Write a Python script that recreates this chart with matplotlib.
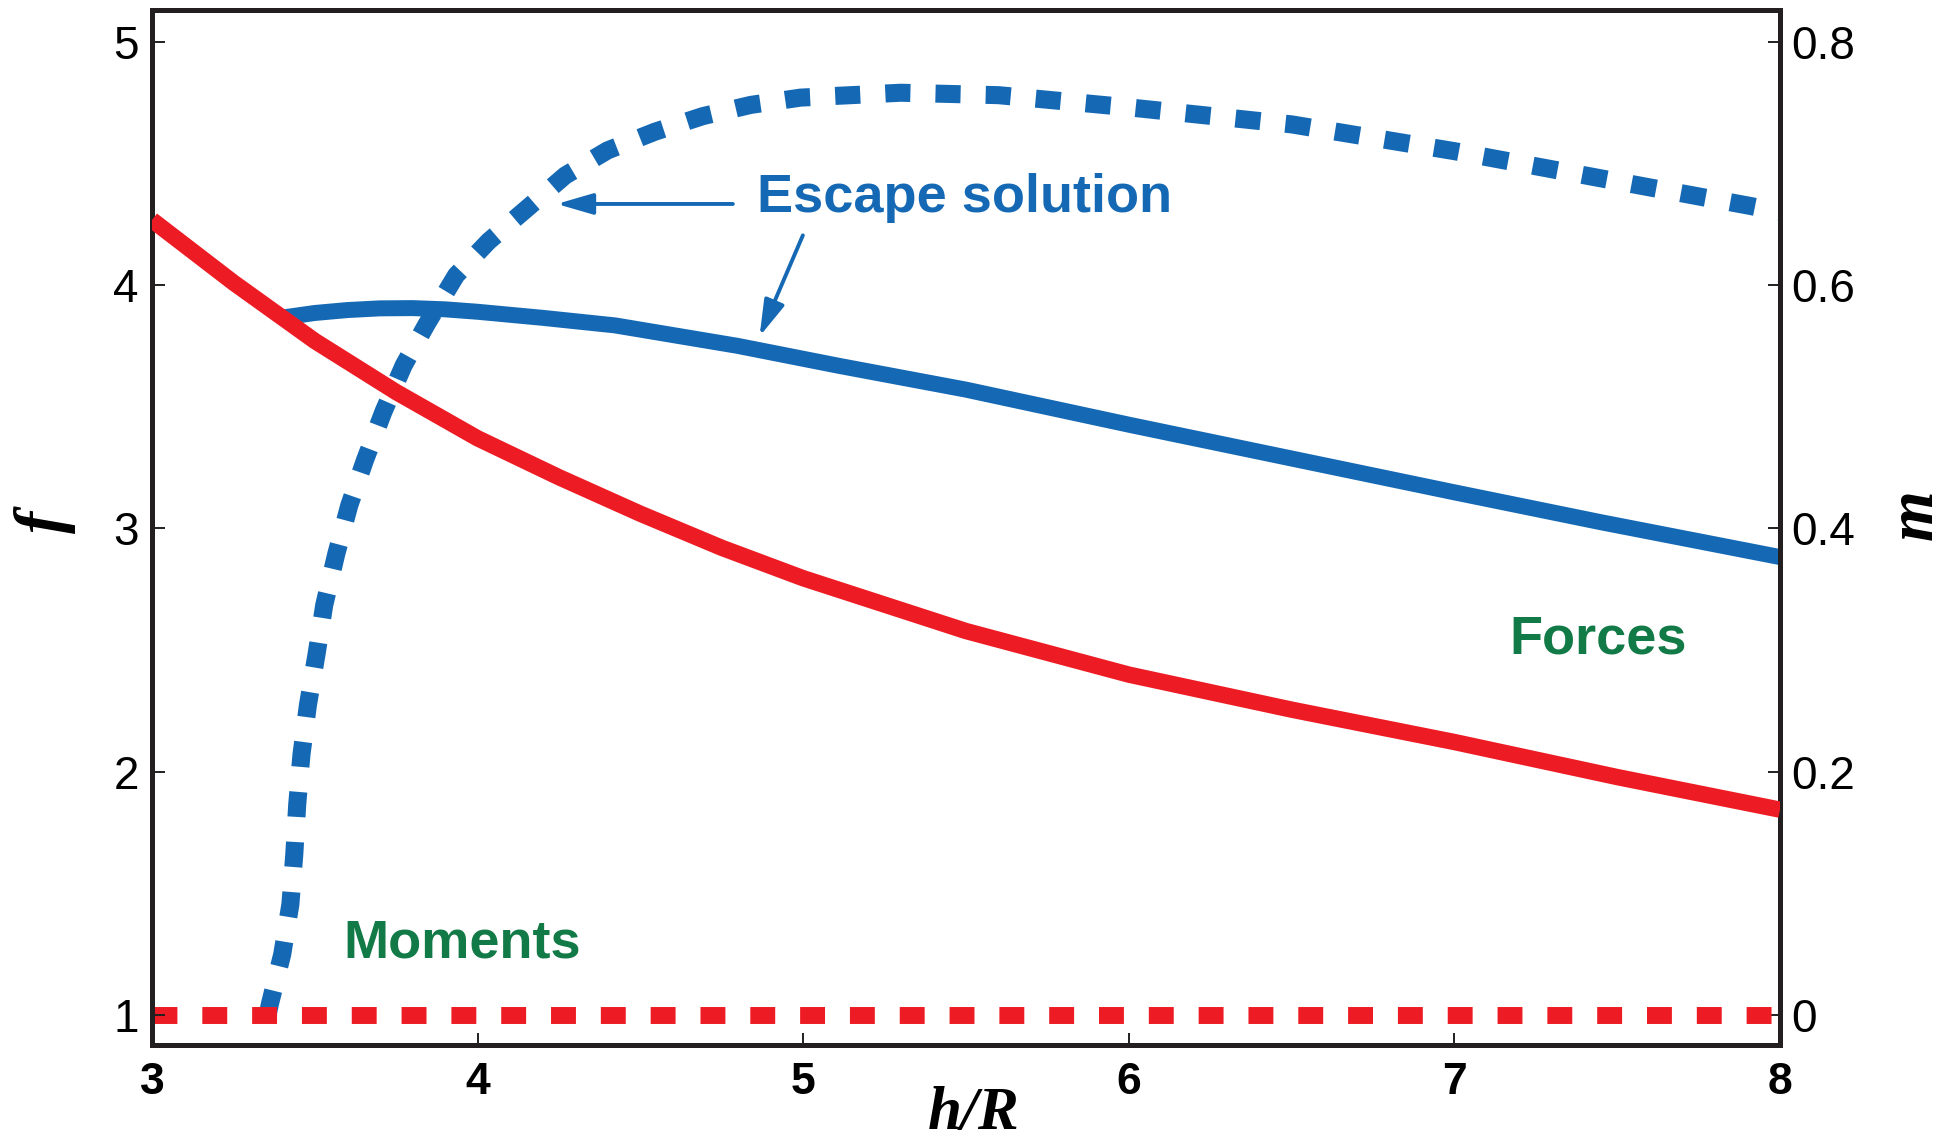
import matplotlib
matplotlib.use("Agg")
import matplotlib.pyplot as plt

# ---- data -------------------------------------------------------------
# force f versus h/R (left axis)
h_stable = [3.0, 3.25, 3.5, 3.75, 4.0, 4.25, 4.5, 4.75, 5.0, 5.5, 6.0, 6.5, 7.0, 7.5, 8.0]
f_stable = [4.267, 4.01, 3.77, 3.56, 3.37, 3.21, 3.06, 2.92, 2.795, 2.578, 2.399, 2.255, 2.122, 1.978, 1.844]

h_escape = [3.405, 3.5, 3.6, 3.7, 3.8, 3.9, 4.0, 4.2, 4.422, 4.798, 5.113, 5.5, 6.0, 6.5, 7.0, 7.447, 8.0]
f_escape = [3.867, 3.885, 3.897, 3.904, 3.905, 3.900, 3.890, 3.865, 3.834, 3.750, 3.667, 3.57, 3.426, 3.287, 3.148, 3.026, 2.882]

# moment m versus h/R (right axis)
h_m_escape = [3.355, 3.362, 3.400, 3.425, 3.437, 3.446, 3.459, 3.479, 3.505, 3.529,
              3.566, 3.606, 3.654, 3.711, 3.773, 3.844, 3.934, 4.034, 4.152, 4.269,
              4.399, 4.545, 4.692, 4.839, 4.992, 5.3, 5.6, 6.0, 6.5, 7.0, 7.604, 7.908, 8.0]
m_escape = [0.0, 0.009, 0.050, 0.091, 0.132, 0.173, 0.214, 0.255, 0.296, 0.337,
            0.379, 0.419, 0.456, 0.496, 0.534, 0.568, 0.608, 0.636, 0.663, 0.690,
            0.7106, 0.726, 0.7388, 0.748, 0.754, 0.758, 0.756, 0.746, 0.732, 0.71, 0.680, 0.665, 0.660]

h_m_stable = [3.0, 8.0]
m_stable = [0.0, 0.0]

h_ticks = [3, 4, 5, 6, 7, 8]
h_tick_labels = ["3", "4", "5", "6", "7", "8"]
f_ticks = [1, 2, 3, 4, 5]
f_tick_labels = ["1", "2", "3", "4", "5"]
m_ticks = [0.0, 0.2, 0.4, 0.6, 0.8]
m_tick_labels = ["0", "0.2", "0.4", "0.6", "0.8"]

# ---- style ------------------------------------------------------------
RED = "#ed1c24"
BLUE = "#1569b4"
GREEN = "#127a46"
DARK = "#231f20"

plt.rcParams["font.family"] = ["Liberation Sans", "DejaVu Sans"]

W, H = 1959, 1142
fig = plt.figure(figsize=(W / 100, H / 100), dpi=100)
fig.patch.set_facecolor("white")

ax = fig.add_axes([152 / W, 97 / H, 1628 / W, 1035 / H])
ax2 = ax.twinx()

# force axis on top so solid curves cover the moment curves
ax.set_zorder(2)
ax2.set_zorder(1)
ax.patch.set_visible(False)

f_lim = (0.877, 5.130)
ax.set_xlim(3, 8)
ax.set_ylim(*f_lim)
ax2.set_ylim((f_lim[0] - 1) / 5, (f_lim[1] - 1) / 5)

# moment curves (right axis)
ax2.plot(h_m_escape, m_escape, color=BLUE, lw=13, dashes=(1.39, 1.39),
         dash_capstyle="butt", solid_joinstyle="round", zorder=2)
ax2.plot(h_m_stable, m_stable, color=RED, lw=12.2, dashes=(1.47, 1.47),
         dash_capstyle="butt", zorder=3)

# force curves (left axis)
ax.plot(h_escape, f_escape, color=BLUE, lw=11.5, solid_capstyle="butt", zorder=2)
ax.plot(h_stable, f_stable, color=RED, lw=11.8, solid_capstyle="butt", zorder=3)

# spines
for s in ax.spines.values():
    s.set_linewidth(3.6)
    s.set_color(DARK)
for s in ax2.spines.values():
    s.set_visible(False)

# ticks
ax.set_xticks(h_ticks)
ax.set_xticklabels(h_tick_labels, fontsize=32, fontweight="bold")
ax.set_yticks(f_ticks)
ax.set_yticklabels(f_tick_labels, fontsize=33)
ax2.set_yticks(m_ticks)
ax2.set_yticklabels(m_tick_labels, fontsize=33)

ax.tick_params(axis="both", direction="in", length=9, width=1.4, color=DARK, labelcolor="black")
ax.tick_params(axis="x", pad=12, top=False)
ax.tick_params(axis="y", pad=9.5, right=False)
ax2.tick_params(axis="y", direction="in", length=9, width=1.4, color=DARK,
                pad=8, left=False, right=True, labelcolor="black")

# axis labels
serif = dict(family=["Liberation Serif", "DejaVu Serif"], style="italic", weight="bold")
fig.text(974 / W, 13 / H, "h/R", ha="center", va="baseline", fontsize=44, **serif)
fig.text(45 / W, 1 - 522 / H, "f", ha="center", va="center", rotation=90, fontsize=48, **serif)
fig.text(1916 / W, 1 - 515 / H, "m", ha="center", va="center", rotation=90, fontsize=47, **serif)

# annotations
ax.text(4.858, 4.300, "Escape solution", color=BLUE, fontsize=39, fontweight="bold",
        ha="left", va="baseline")
ax.text(7.169, 2.486, "Forces", color=GREEN, fontsize=39, fontweight="bold",
        ha="left", va="baseline")
ax.text(3.5875, 1.238, "Moments", color=GREEN, fontsize=39, fontweight="bold",
        ha="left", va="baseline")

arrow = dict(arrowstyle="-|>,head_length=1.1,head_width=0.32", mutation_scale=20,
             lw=2.8, color=BLUE, shrinkA=0, shrinkB=0)
ax.annotate("", xy=(4.243, 4.333), xytext=(4.784, 4.333), arrowprops=arrow)
ax.annotate("", xy=(4.866, 3.789), xytext=(4.999, 4.204), arrowprops=arrow)

fig.savefig("out.png", dpi=100, facecolor="white")
